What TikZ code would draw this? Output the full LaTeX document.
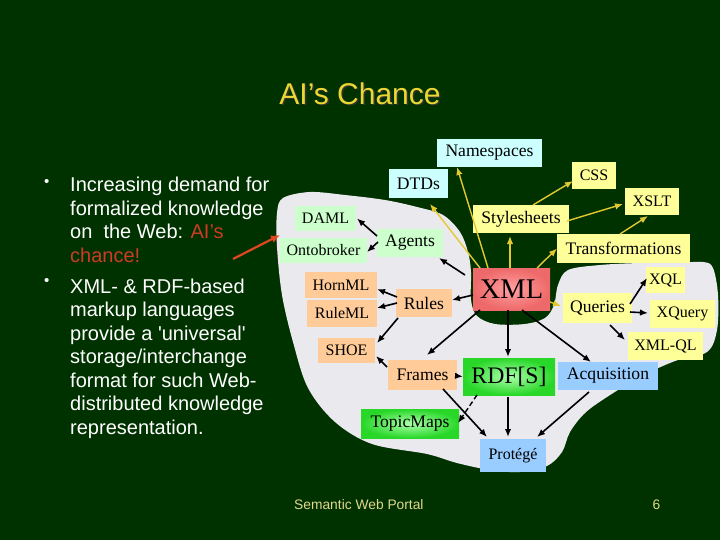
\documentclass[tikz,border=0pt]{standalone}
\usepackage{fontspec}
\setmainfont{Liberation Serif}
\newfontfamily\arialf{Liberation Sans}
\usetikzlibrary{arrows.meta,calc}
\definecolor{bg}{RGB}{0,50,0}
\definecolor{cloudc}{RGB}{234,234,238}
\definecolor{cyanbox}{RGB}{204,255,255}
\definecolor{yelbox}{RGB}{255,255,153}
\definecolor{grnbox}{RGB}{204,255,204}
\definecolor{peachbox}{RGB}{255,204,153}
\definecolor{bluebox}{RGB}{153,204,255}
\definecolor{arrowyel}{RGB}{228,200,50}
\definecolor{titleyel}{RGB}{235,215,50}
\definecolor{aired}{RGB}{205,60,35}
\definecolor{redarrow}{RGB}{225,70,30}
\definecolor{foot}{RGB}{225,215,140}
\definecolor{xmlin}{RGB}{255,160,160}
\definecolor{xmlout}{RGB}{238,105,105}
\definecolor{rdfin}{RGB}{170,255,170}
\definecolor{rdfout}{RGB}{40,215,40}
\tikzset{
  blk/.style={line width=1.6pt, black, -{Latex[length=8pt,width=6.5pt]}},
  yel/.style={line width=1.4pt, arrowyel, -{Latex[length=8pt,width=6.5pt]}},
  bx/.style={inner sep=0pt, outer sep=0pt, text=black, font=\fontsize{17.6}{20}\selectfont},
  sm/.style={font=\fontsize{16}{19}\selectfont},
  glow/.style={shading=radial, inner color=#1in, outer color=#1out},
  bultext/.style={anchor=base west, align=left, inner sep=0pt, text=white,
      font=\arialf\fontsize{20}{23.5}\selectfont},
  bulmark/.style={text=white, inner sep=0pt, font=\arialf\fontsize{15}{18}\selectfont},
}
\begin{document}
\begin{tikzpicture}[x=1pt,y=-1pt]
\useasboundingbox (0,0) rectangle (720,540);
\fill[bg] (0,0) rectangle (720,540);

% cloud
\fill[cloudc] plot[smooth cycle, tension=0.55] coordinates {
 (283,198) (310,192) (345,195) (385,200) (417,207) (443,215) (460,232) (468,252)
 (471,272) (471,300) (477,316) (495,324) (525,324) (545,318) (554,305) (558,285)
 (568,270) (600,265) (640,263) (675,263) (703,262) (713,268) (718,295) (717,330)
 (707,352) (675,361) (640,377) (607,397) (585,413) (570,432) (562,452) (547,466)
 (520,472) (490,470) (457,463) (427,454) (372,444) (335,422) (308,388) (293,342)
 (282,295) (277,247) (277,213)};

% title
\node[anchor=base, text=black!80, font=\arialf\fontsize{30}{36}\selectfont] at (361.5,105.8) {AI’s Chance};
\node[anchor=base, text=titleyel, font=\arialf\fontsize{30}{36}\selectfont] (title) at (360,104.3) {AI’s Chance};

% bullets (anchor base = baseline of the last line)
\node[bulmark] (d1) at (46.7,183) {•};
\node[bulmark] (d2) at (46.7,282) {•};
\node[bultext] (b1) at (70,262)
 {Increasing demand for\\formalized knowledge\\on~ the Web: \textcolor{aired}{AI’s}\\\textcolor{aired}{chance!}};
\node[bultext] (b2) at (70,434)
 {XML- \& RDF-based\\markup languages\\provide a \textquotesingle universal\textquotesingle\\storage/interchange\\format for such Web-\\distributed knowledge\\representation.};

% footer
\node[anchor=base west, inner sep=0pt, text=foot, font=\arialf\fontsize{13.8}{16}\selectfont] (foot) at (294,509) {Semantic Web Portal};
\node[anchor=base west, inner sep=0pt, text=foot, font=\arialf\fontsize{13.8}{16}\selectfont] (pg) at (652.5,509) {6};

% boxes
\node[bx, fill=cyanbox, minimum width=105, minimum height=28] (ns) at (489.5,153) {Namespaces};
\node[bx, fill=cyanbox, minimum width=59, minimum height=29] (dtds) at (418.5,183.5) {DTDs};
\node[bx, sm, fill=yelbox, minimum width=44, minimum height=27] (css) at (594,175.5) {CSS};
\node[bx, sm, fill=yelbox, minimum width=54, minimum height=27] (xslt) at (652,201.5) {XSLT};
\node[bx, fill=yelbox, minimum width=96, minimum height=28] (style) at (521,219) {Stylesheets};
\node[bx, fill=yelbox, minimum width=133, minimum height=29] (trans) at (623.5,248.5) {Transformations};
\node[bx, sm, fill=grnbox, minimum width=61, minimum height=25] (daml) at (325.5,218.5) {DAML};
\node[bx, sm, fill=grnbox, minimum width=87, minimum height=25] (onto) at (323.5,250.5) {Ontobroker};
\node[bx, fill=grnbox, minimum width=66, minimum height=28] (agents) at (410,243) {Agents};
\node[bx, glow=xml, minimum width=77, minimum height=42, font=\fontsize{28.5}{32}\selectfont] (xml) at (511.5,289) {XML};
\node[bx, sm, fill=peachbox, minimum width=72, minimum height=26] (horn) at (341,285) {HornML};
\node[bx, sm, fill=peachbox, minimum width=70, minimum height=27] (rulem) at (342,313.5) {RuleML};
\node[bx, fill=peachbox, minimum width=56, minimum height=28] (rules) at (424,303) {Rules};
\node[bx, sm, fill=peachbox, minimum width=57, minimum height=25] (shoe) at (346.5,350.5) {SHOE};
\node[bx, fill=peachbox, minimum width=69, minimum height=30] (frames) at (422.5,375) {Frames};
\node[bx, glow=rdf, minimum width=92, minimum height=37, font=\fontsize{23.7}{28}\selectfont] (rdf) at (509,376.5) {RDF[S]};
\node[bx, fill=bluebox, minimum width=100, minimum height=28] (acq) at (608,376) {Acquisition};
\node[bx, glow=rdf, minimum width=98, minimum height=29] (topic) at (410,423.5) {TopicMaps};
\node[bx, sm, fill=bluebox, minimum width=66, minimum height=33] (prot) at (513,455.5) {Protégé};
\node[bx, fill=yelbox, minimum width=69, minimum height=30] (queries) at (597.5,308) {Queries};
\node[bx, sm, fill=yelbox, minimum width=39, minimum height=26] (xql) at (665.5,280) {XQL};
\node[bx, sm, fill=yelbox, minimum width=65, minimum height=28] (xquery) at (682.5,314) {XQuery};
\node[bx, sm, fill=yelbox, minimum width=75, minimum height=28] (xmlql) at (665.5,346) {XML-QL};

% yellow arrows
\draw[yel] ($(xml.north west)+(7,0)$) -- ($(dtds.south west)+(41,6)$);
\draw[yel] ($(xml.north west)+(15,0)$) -- ($(ns.south west)+(20,0)$);
\draw[yel] ($(xml.north)+(-1.5,0)$) -- ($(style.south)+(-11,3)$);
\draw[yel] ($(xml.north east)+(-13,0)$) -- (trans.west);
\draw[yel] ($(style.north)+(12,0)$) -- ($(css.south west)+(1,-8)$);
\draw[yel] ($(style.east)+(-2,2)$) -- ($(xslt.west)+(-2,2.5)$);
\draw[yel] ($(trans.north)+(-3.5,0)$) -- ($(xslt.south)+(-4,1)$);
\draw[yel] ($(xml.east)+(0,13)$) -- ($(queries.west)+(-2,-2)$);

% black arrows
\draw[blk] ($(agents.west)+(0,-7)$) -- ($(daml.east)+(1,0)$);
\draw[blk] ($(agents.west)+(1,-1)$) -- ($(onto.east)+(0,1.5)$);
\draw[blk] ($(xml.north west)+(-8,7)$) -- ($(agents.south east)+(-4,1)$);
\draw[blk] ($(xml.west)+(0,6)$) -- ($(rules.east)+(0,-3)$);
\draw[blk] ($(rules.west)+(1,-6)$) -- ($(horn.east)+(0,4)$);
\draw[blk] ($(rules.west)+(1,0)$) -- ($(rulem.east)+(0,-5.5)$);
\draw[blk] ($(rules.south west)+(2,1)$) -- ($(shoe.east)+(2,-7.5)$);
\draw[blk] ($(xml.south west)+(7,0)$) -- ($(frames.north)+(4.5,-5)$);
\draw[blk] ($(xml.south)+(-3.5,0)$) -- ($(rdf.north)+(-1,-1)$);
\draw[blk] ($(xml.south east)+(-28,0)$) -- ($(acq.north)+(-17,0)$);
\draw[blk] ($(queries.north east)+(-2,11)$) -- ($(xql.south west)+(1,-15)$);
\draw[blk] ($(queries.east)+(-2,4)$) -- ($(xquery.west)+(-2,-1)$);
\draw[blk] ($(queries.south)+(12.5,2)$) -- ($(xmlql.west)+(-3,-6)$);
\draw[blk] ($(frames.north west)+(-1,7)$) -- ($(shoe.south east)+(1,-7)$);
\draw[blk] ($(frames.east)+(0,1)$) -- (rdf.west);
\draw[blk] ($(frames.south east)+(-14,-1)$) -- ($(prot.north west)+(7,-2)$);
\draw[blk, line width=1.4pt, dash pattern=on 5pt off 3pt] ($(rdf.south west)+(14,0)$) -- ($(topic.north east)+(-1,14)$);
\draw[blk] ($(rdf.south)+(-1,2)$) -- ($(prot.north)+(-5,-2)$);
\draw[blk] ($(acq.south)+(-19,2)$) -- ($(prot.north east)+(-9,-2)$);

% red arrow
\coordinate (r0) at (233,259);
\coordinate (r1) at (280,235);
\draw[line width=2.2pt, redarrow, -{Latex[length=9pt,width=8pt]}] (r0) -- (r1);
\end{tikzpicture}
\end{document}
